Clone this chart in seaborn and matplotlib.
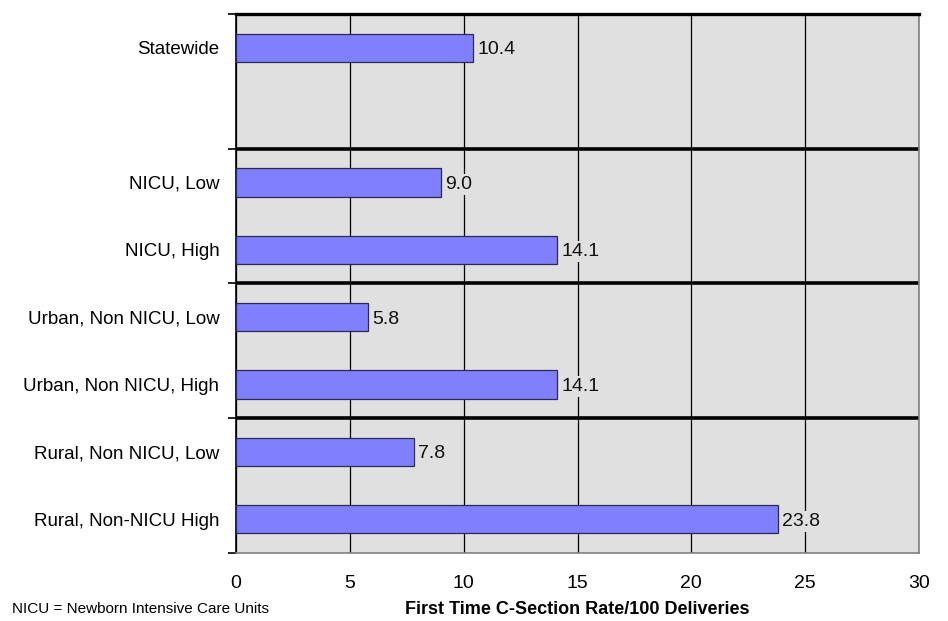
import matplotlib
matplotlib.use("Agg")
import matplotlib.pyplot as plt
import seaborn as sns
import pandas as pd

# Hospital groups and first-time C-section rates per 100 deliveries
groups = ["Statewide", "NICU, Low", "NICU, High",
          "Urban, Non NICU, Low", "Urban, Non NICU, High",
          "Rural, Non NICU, Low", "Rural, Non-NICU High"]
rates = [10.4, 9.0, 14.1, 5.8, 14.1, 7.8, 23.8]
# Category order on the axis; a blank slot follows the statewide bar
order = ["Statewide", " ", "NICU, Low", "NICU, High",
         "Urban, Non NICU, Low", "Urban, Non NICU, High",
         "Rural, Non NICU, Low", "Rural, Non-NICU High"]
x_ticks = [0, 5, 10, 15, 20, 25, 30]

df = pd.DataFrame({"group": groups, "rate": rates})

sns.set_theme(style="white")
plt.rcParams["font.family"] = ["Liberation Sans", "DejaVu Sans"]
plt.rcParams["text.color"] = "black"
plt.rcParams["xtick.color"] = "black"
plt.rcParams["ytick.color"] = "black"
plt.rcParams["axes.labelcolor"] = "black"

fig = plt.figure(figsize=(9.48, 6.21), dpi=100)
ax = fig.add_axes([0.249, 0.1095, 0.7204, 0.868])
bg = "#E0E0E0"
ax.set_facecolor(bg)

sns.barplot(data=df, x="rate", y="group", order=order, orient="h",
            color="#8080FF", saturation=1, width=0.42,
            edgecolor="#2A2A5A", linewidth=0.9, ax=ax, zorder=3)

ax.set_xlim(0, 30)
ax.set_ylim(7.5, -0.5)
ax.set_xticks(x_ticks)
ax.set_xticklabels([str(t) for t in x_ticks], fontsize=14)
ax.tick_params(axis="x", length=0, pad=16)

# Category labels without ticks; tick marks sit on group boundaries instead
ax.tick_params(axis="y", which="major", left=False, length=0, pad=12,
               labelsize=13.5)
ax.set_yticks([-0.5, 1.5, 3.5, 5.5, 7.5], minor=True)
ax.tick_params(axis="y", which="minor", left=True, length=6, width=1.2,
               color="black", direction="out")

ax.grid(axis="x", color="black", linewidth=0.9, zorder=1)
ax.set_axisbelow(True)

for b in (1.5, 3.5, 5.5):
    ax.axhline(b, color="black", linewidth=2.6, zorder=2)

for side, col, lw in (("left", "black", 1.2), ("top", "black", 2.4),
                      ("right", "#808080", 1.2), ("bottom", "#808080", 1.2)):
    ax.spines[side].set_visible(True)
    ax.spines[side].set_color(col)
    ax.spines[side].set_linewidth(lw)

# Value labels beside each bar
for g, r in zip(groups, rates):
    y = order.index(g)
    ax.text(r + 0.2, y + 0.03, f"{r:.1f}", va="center", ha="left",
            fontsize=14, color="#111111", zorder=4,
            bbox=dict(facecolor=bg, edgecolor="none", pad=1.5))

ax.set_ylabel("")
ax.set_xlabel("First Time C-Section Rate/100 Deliveries", fontsize=13,
              fontweight="bold", labelpad=6)

fig.text(0.0127, 0.008, "NICU = Newborn Intensive Care Units", fontsize=11,
         ha="left", va="bottom")

fig.savefig("out.png", dpi=100)
